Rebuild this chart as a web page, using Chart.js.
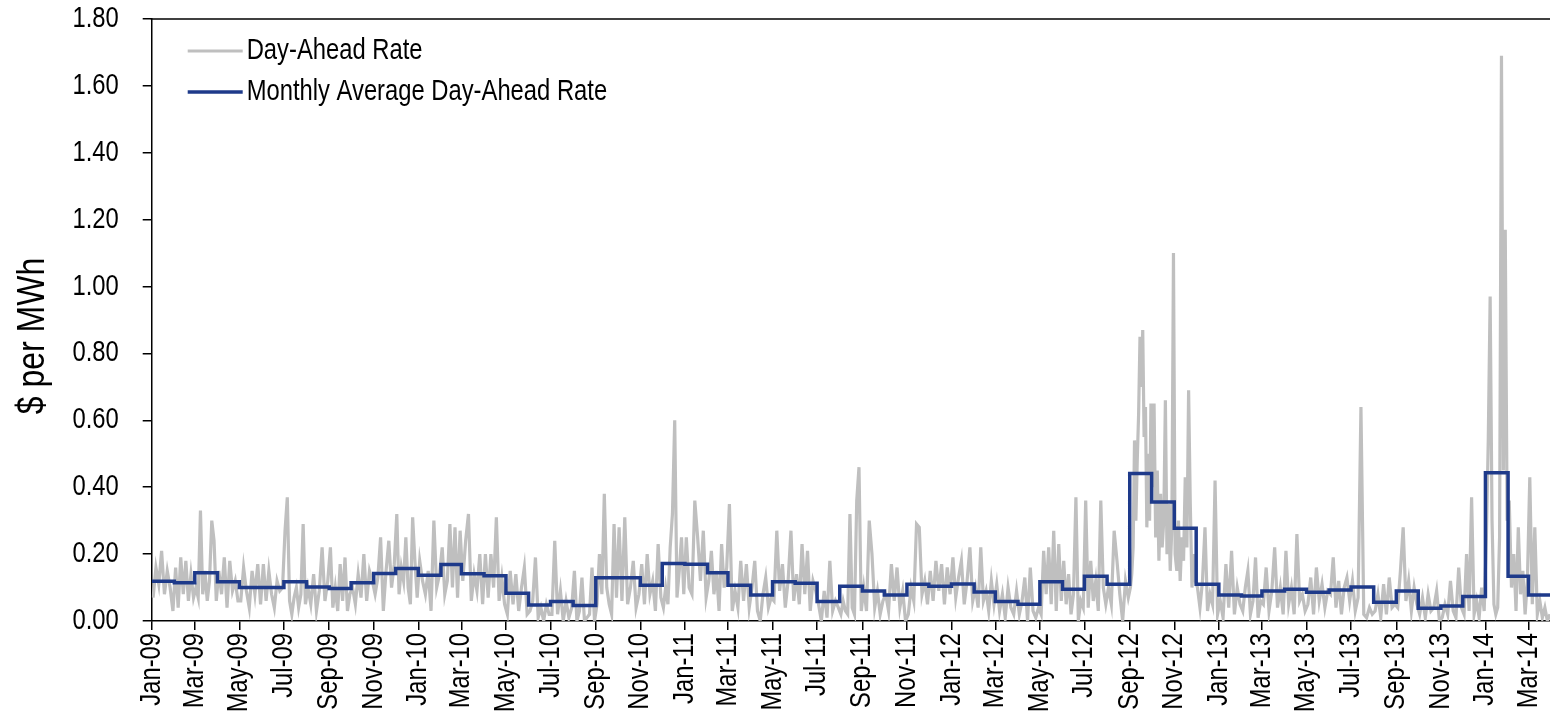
<!DOCTYPE html>
<html>
<head>
<meta charset="utf-8">
<script src="https://cdn.jsdelivr.net/npm/chart.js@4/dist/chart.umd.min.js"></script>
<style>
  html, body { margin: 0; padding: 0; background: #fff; }
</style>
</head>
<body>
<canvas id="rateChart" width="1550" height="720"></canvas>
<script>
const FONT = "'Liberation Sans', Arial, sans-serif";
const NARROW = 0.82; // the original uses a narrow face; squeeze glyphs along the text direction

const months = [
    'Jan-09', 'Feb-09', 'Mar-09', 'Apr-09', 'May-09', 'Jun-09', 'Jul-09', 'Aug-09', 'Sep-09', 'Oct-09', 'Nov-09', 'Dec-09',
    'Jan-10', 'Feb-10', 'Mar-10', 'Apr-10', 'May-10', 'Jun-10', 'Jul-10', 'Aug-10', 'Sep-10', 'Oct-10', 'Nov-10', 'Dec-10',
    'Jan-11', 'Feb-11', 'Mar-11', 'Apr-11', 'May-11', 'Jun-11', 'Jul-11', 'Aug-11', 'Sep-11', 'Oct-11', 'Nov-11', 'Dec-11',
    'Jan-12', 'Feb-12', 'Mar-12', 'Apr-12', 'May-12', 'Jun-12', 'Jul-12', 'Aug-12', 'Sep-12', 'Oct-12', 'Nov-12', 'Dec-12',
    'Jan-13', 'Feb-13', 'Mar-13', 'Apr-13', 'May-13', 'Jun-13', 'Jul-13', 'Aug-13', 'Sep-13', 'Oct-13', 'Nov-13', 'Dec-13',
    'Jan-14', 'Feb-14', 'Mar-14'
];

// monthly average day-ahead rate ($ per MWh), one per month
const monthlyAvg = [
    0.119, 0.114, 0.144, 0.117, 0.100, 0.100, 0.117, 0.102, 0.097, 0.114, 0.142, 0.157,
    0.137, 0.169, 0.141, 0.135, 0.083, 0.048, 0.058, 0.046, 0.129, 0.129, 0.107, 0.172,
    0.170, 0.144, 0.107, 0.078, 0.117, 0.113, 0.058, 0.104, 0.090, 0.078, 0.110, 0.104,
    0.111, 0.087, 0.058, 0.050, 0.117, 0.095, 0.134, 0.110, 0.441, 0.356, 0.277, 0.110,
    0.078, 0.075, 0.090, 0.095, 0.086, 0.093, 0.102, 0.056, 0.090, 0.038, 0.045, 0.073,
    0.443, 0.134, 0.078
];

// day-ahead rate readings inside each month, spread evenly over that month
const dailyRate = [
    [0.07, 0.16, 0.11, 0.21, 0.08, 0.15, 0.10, 0.03],
    [0.16, 0.04, 0.19, 0.08, 0.18, 0.06, 0.14, 0.07],
    [0.10, 0.07, 0.33, 0.08, 0.15, 0.06, 0.12, 0.30, 0.24, 0.06],
    [0.15, 0.08, 0.19, 0.04, 0.18, 0.09, 0.12, 0.06],
    [0.06, 0.16, 0.09, 0.04, 0.15, 0.08, 0.17, 0.05],
    [0.17, 0.06, 0.15, 0.08, 0.04, 0.12, 0.09, 0.10],
    [0.27, 0.37, 0.06, 0.02, 0.07, 0.10, 0.04, 0.08, 0.29, 0.05],
    [0.10, 0.05, 0.14, 0.03, 0.09, 0.22, 0.06, 0.12],
    [0.22, 0.04, 0.10, 0.03, 0.17, 0.06, 0.19, 0.03, 0.08],
    [0.10, 0.05, 0.14, 0.07, 0.20, 0.06, 0.15, 0.12],
    [0.08, 0.13, 0.25, 0.03, 0.15, 0.24, 0.10, 0.17],
    [0.32, 0.08, 0.16, 0.12, 0.25, 0.10, 0.05, 0.31, 0.18, 0.07],
    [0.18, 0.12, 0.08, 0.15, 0.03, 0.30, 0.10, 0.14],
    [0.22, 0.08, 0.12, 0.29, 0.10, 0.28, 0.07, 0.27],
    [0.12, 0.24, 0.32, 0.06, 0.14, 0.09, 0.20, 0.05],
    [0.20, 0.07, 0.20, 0.10, 0.31, 0.06, 0.13, 0.05],
    [0.02, 0.15, 0.05, 0.14, 0.03, 0.10, 0.16, 0.02],
    [0.03, 0.06, 0.19, 0.01, 0.04, 0.00, 0.05, 0.02],
    [0.02, 0.24, 0.02, 0.09, 0.00, 0.06, 0.01, 0.04],
    [0.15, 0.00, 0.03, 0.13, 0.00, 0.01, 0.02, 0.16, 0.00],
    [0.05, 0.20, 0.08, 0.38, 0.10, 0.05, 0.02, 0.29, 0.07],
    [0.28, 0.06, 0.31, 0.05, 0.10, 0.18, 0.04, 0.08],
    [0.17, 0.05, 0.20, 0.08, 0.12, 0.03, 0.23, 0.07],
    [0.04, 0.10, 0.05, 0.22, 0.32, 0.60, 0.07, 0.15, 0.25, 0.08],
    [0.25, 0.10, 0.08, 0.36, 0.25, 0.12, 0.27, 0.07],
    [0.12, 0.21, 0.08, 0.15, 0.03, 0.23, 0.10, 0.16],
    [0.35, 0.03, 0.09, 0.04, 0.18, 0.06, 0.17, 0.04],
    [0.10, 0.18, 0.03, 0.00, 0.08, 0.13, 0.04, 0.07],
    [0.06, 0.27, 0.09, 0.17, 0.04, 0.12, 0.27, 0.06],
    [0.14, 0.05, 0.23, 0.08, 0.21, 0.03, 0.12, 0.09],
    [0.05, 0.00, 0.09, 0.01, 0.18, 0.03, 0.06, 0.04],
    [0.02, 0.06, 0.03, 0.02, 0.32, 0.04, 0.02, 0.36, 0.46, 0.03],
    [0.10, 0.03, 0.30, 0.20, 0.04, 0.09, 0.02, 0.06],
    [0.08, 0.03, 0.17, 0.06, 0.16, 0.04, 0.09, 0.00],
    [0.02, 0.10, 0.06, 0.29, 0.28, 0.08, 0.12, 0.05],
    [0.15, 0.06, 0.18, 0.09, 0.17, 0.05, 0.16, 0.08],
    [0.19, 0.07, 0.13, 0.18, 0.05, 0.12, 0.22, 0.06],
    [0.10, 0.04, 0.22, 0.06, 0.09, 0.03, 0.12, 0.05],
    [0.11, 0.03, 0.08, 0.01, 0.10, 0.04, 0.02, 0.09],
    [0.02, 0.06, 0.13, 0.00, 0.16, 0.03, 0.01, 0.04],
    [0.02, 0.21, 0.08, 0.22, 0.05, 0.27, 0.03, 0.23, 0.06],
    [0.18, 0.05, 0.14, 0.02, 0.08, 0.37, 0.00, 0.06, 0.04],
    [0.36, 0.04, 0.18, 0.06, 0.12, 0.03, 0.36, 0.10, 0.05],
    [0.10, 0.05, 0.27, 0.18, 0.08, 0.00, 0.12, 0.07],
    [0.10, 0.14, 0.22, 0.54, 0.30, 0.48, 0.62, 0.85, 0.70, 0.87, 0.55, 0.64, 0.28, 0.50, 0.30, 0.65],
    [0.40, 0.65, 0.25, 0.45, 0.18, 0.38, 0.22, 0.30, 0.66, 0.20, 0.35, 0.15, 0.28, 1.10],
    [0.20, 0.15, 0.30, 0.12, 0.25, 0.18, 0.43, 0.22, 0.69, 0.35, 0.10, 0.20, 0.12],
    [0.10, 0.04, 0.12, 0.28, 0.03, 0.08, 0.05, 0.42, 0.02],
    [0.06, 0.01, 0.17, 0.04, 0.21, 0.02, 0.10, 0.05],
    [0.03, 0.10, 0.15, 0.02, 0.06, 0.19, 0.01, 0.06],
    [0.05, 0.16, 0.03, 0.09, 0.22, 0.04, 0.10, 0.02],
    [0.21, 0.05, 0.10, 0.02, 0.26, 0.06, 0.08, 0.03],
    [0.05, 0.13, 0.02, 0.16, 0.06, 0.11, 0.04, 0.09],
    [0.08, 0.19, 0.04, 0.12, 0.02, 0.10, 0.13, 0.06],
    [0.12, 0.03, 0.07, 0.64, 0.02, 0.01, 0.04, 0.02],
    [0.03, 0.08, 0.01, 0.11, 0.02, 0.13, 0.04, 0.05],
    [0.04, 0.15, 0.28, 0.06, 0.12, 0.03, 0.10, 0.05],
    [0.02, 0.07, 0.01, 0.08, 0.03, 0.04, 0.09, 0.00],
    [0.01, 0.05, 0.02, 0.12, 0.03, 0.01, 0.16, 0.04],
    [0.02, 0.20, 0.03, 0.37, 0.02, 0.06, 0.01, 0.10, 0.03],
    [0.25, 0.54, 0.97, 0.30, 0.05, 0.02, 0.04, 0.25, 1.69, 0.45, 1.17, 0.30],
    [0.36, 0.10, 0.20, 0.03, 0.28, 0.08, 0.15, 0.02, 0.12],
    [0.43, 0.05, 0.28, 0.02, 0.06, 0.01, 0.04, 0.00, 0.02]
];

const tickLabels = [
    'Jan-09', 'Mar-09', 'May-09', 'Jul-09', 'Sep-09', 'Nov-09',
    'Jan-10', 'Mar-10', 'May-10', 'Jul-10', 'Sep-10', 'Nov-10',
    'Jan-11', 'Mar-11', 'May-11', 'Jul-11', 'Sep-11', 'Nov-11',
    'Jan-12', 'Mar-12', 'May-12', 'Jul-12', 'Sep-12', 'Nov-12',
    'Jan-13', 'Mar-13', 'May-13', 'Jul-13', 'Sep-13', 'Nov-13',
    'Jan-14', 'Mar-14'
];

const DAY_MS = 86400000;
const BASE = Date.UTC(2009, 0, 1);
const MON = { Jan: 0, Feb: 1, Mar: 2, Apr: 3, May: 4, Jun: 5, Jul: 6, Aug: 7, Sep: 8, Oct: 9, Nov: 10, Dec: 11 };

// days since 1 Jan 2009 for the first day of a "Mmm-yy" month (shift moves months forward)
function dayOf(label, shift = 0) {
    const [m, y] = label.split('-');
    return (Date.UTC(2000 + Number(y), MON[m] + shift, 1) - BASE) / DAY_MS;
}

const dailyPoints = [];
months.forEach((m, i) => {
    const start = dayOf(m), end = dayOf(m, 1);
    const vals = dailyRate[i];
    vals.forEach((v, j) => dailyPoints.push({ x: start + (j + 0.5) * (end - start) / vals.length, y: v }));
});

const avgPoints = months.map((m, i) => ({ x: dayOf(m), y: monthlyAvg[i] }));
avgPoints.push({ x: dayOf(months[months.length - 1], 1), y: monthlyAvg[monthlyAvg.length - 1] });

const canvas = document.getElementById('rateChart');
const ctx2d = canvas.getContext('2d');
const rawFillText = ctx2d.fillText.bind(ctx2d);
ctx2d.fillText = function (text, x, y) {
    this.save();
    this.translate(x, y);
    this.scale(NARROW, 1);
    rawFillText(text, 0, 0);
    this.restore();
};

// top frame line, y title and the legend in the upper left of the plot
const frameAndLegend = {
    id: 'frameAndLegend',
    afterDraw(chart) {
        const { ctx, chartArea } = chart;
        ctx.save();
        ctx.strokeStyle = '#000';
        ctx.lineWidth = 1.5;
        ctx.beginPath();
        ctx.moveTo(chartArea.left - 1, chartArea.top);
        ctx.lineTo(chartArea.right, chartArea.top);
        ctx.stroke();

        ctx.fillStyle = '#000';
        ctx.save();
        ctx.font = '39px ' + FONT;
        ctx.textAlign = 'center';
        ctx.textBaseline = 'middle';
        ctx.translate(33, 336);
        ctx.rotate(-Math.PI / 2);
        ctx.fillText('$ per MWh', 0, 0);
        ctx.restore();

        ctx.font = '29px ' + FONT;
        ctx.textAlign = 'left';
        ctx.textBaseline = 'middle';
        chart.data.datasets.forEach((ds, i) => {
            const y = chartArea.top + 32 + i * 41;
            ctx.strokeStyle = ds.borderColor;
            ctx.lineWidth = ds.borderWidth;
            ctx.beginPath();
            ctx.moveTo(chartArea.left + 36, y);
            ctx.lineTo(chartArea.left + 91, y);
            ctx.stroke();
            ctx.fillText(ds.label, chartArea.left + 95, y);
        });
        ctx.restore();
    }
};

new Chart(canvas, {
    type: 'line',
    data: {
        datasets: [
            {
                label: 'Day-Ahead Rate',
                data: dailyPoints,
                borderColor: '#BFBFBF',
                borderWidth: 3.2,
                pointRadius: 0,
                order: 2
            },
            {
                label: 'Monthly Average Day-Ahead Rate',
                data: avgPoints,
                borderColor: '#1E3A8A',
                borderWidth: 3.5,
                pointRadius: 0,
                stepped: true,
                order: 1
            }
        ]
    },
    options: {
        responsive: false,
        animation: false,
        layout: { padding: { top: 19, right: 0, left: 0, bottom: 0 } },
        plugins: { legend: { display: false }, tooltip: { enabled: false } },
        scales: {
            x: {
                type: 'linear',
                min: 0,
                max: dayOf('Mar-14') + 29.4,
                afterBuildTicks: axis => { axis.ticks = tickLabels.map(l => ({ value: dayOf(l) })); },
                afterFit: axis => { axis.height = 99; axis.paddingLeft = 0; axis.paddingRight = 0; },
                ticks: {
                    autoSkip: false,
                    minRotation: 90,
                    maxRotation: 90,
                    padding: 3,
                    color: '#000',
                    font: { family: FONT, size: 29 },
                    callback: (v, i) => tickLabels[i]
                },
                grid: { drawOnChartArea: false, tickLength: 9, color: '#000', lineWidth: 1.5 },
                border: { display: true, color: '#000', width: 1.5 }
            },
            y: {
                min: 0,
                max: 1.8,
                afterFit: axis => { axis.width = 151.7; axis.paddingTop = 0; axis.paddingBottom = 0; },
                ticks: {
                    stepSize: 0.2,
                    padding: 24,
                    color: '#000',
                    font: { family: FONT, size: 29 },
                    callback: v => v.toFixed(2)
                },
                grid: { drawOnChartArea: false, tickLength: 9, color: '#000', lineWidth: 1.5 },
                border: { display: true, color: '#000', width: 1.5 }
            }
        }
    },
    plugins: [frameAndLegend]
});
</script>
</body>
</html>
